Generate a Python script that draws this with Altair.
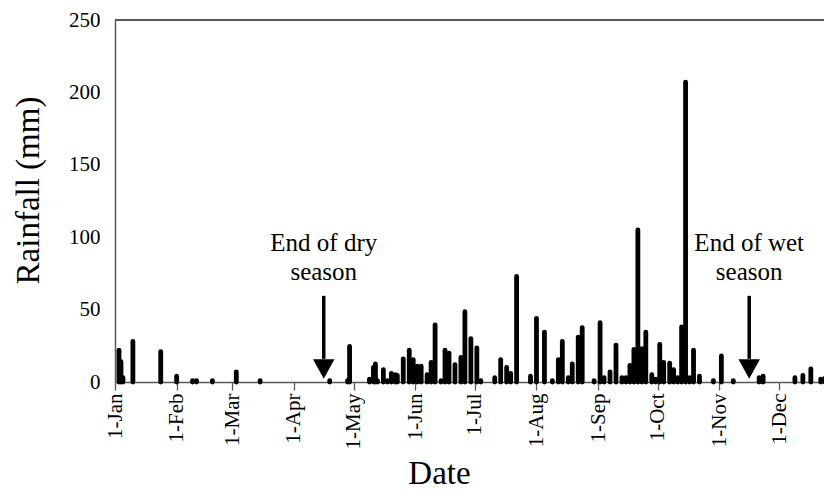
import altair as alt
import pandas as pd

# Daily rainfall (mm)
dates = [
    "2013-01-03", "2013-01-04", "2013-01-05", "2013-01-10", "2013-01-24",
    "2013-02-01", "2013-02-09", "2013-02-11", "2013-02-19", "2013-03-03",
    "2013-03-15", "2013-04-19", "2013-04-28", "2013-04-29",
    "2013-05-09", "2013-05-11", "2013-05-12", "2013-05-13", "2013-05-16",
    "2013-05-18", "2013-05-20", "2013-05-22", "2013-05-23", "2013-05-26",
    "2013-05-29", "2013-05-31", "2013-06-02", "2013-06-04", "2013-06-07",
    "2013-06-09", "2013-06-11", "2013-06-14", "2013-06-16", "2013-06-18",
    "2013-06-21", "2013-06-24", "2013-06-26", "2013-06-29", "2013-07-02",
    "2013-07-04", "2013-07-11", "2013-07-14", "2013-07-17", "2013-07-19",
    "2013-07-22", "2013-07-29", "2013-08-01", "2013-08-05", "2013-08-09",
    "2013-08-12", "2013-08-14", "2013-08-17", "2013-08-19", "2013-08-22",
    "2013-08-24", "2013-08-30", "2013-09-02", "2013-09-04", "2013-09-07",
    "2013-09-10", "2013-09-13", "2013-09-15", "2013-09-17", "2013-09-19",
    "2013-09-21", "2013-09-23", "2013-09-25", "2013-09-28", "2013-09-30",
    "2013-10-02", "2013-10-04", "2013-10-07", "2013-10-09", "2013-10-11",
    "2013-10-13", "2013-10-15", "2013-10-17", "2013-10-19", "2013-10-22",
    "2013-10-29", "2013-11-02", "2013-11-08", "2013-11-21", "2013-11-23",
    "2013-12-09", "2013-12-13", "2013-12-17", "2013-12-22", "2013-12-24",
]
rainfall = [
    22, 14, 3, 28, 21,
    4, 1, 1, 1, 7,
    1, 1, 1, 24.5,
    2, 10, 12.5, 1, 8.5,
    1, 6, 5, 4.5, 16,
    22, 15.5, 11, 11, 5,
    13.5, 39.5, 1, 22, 20,
    12, 17, 48.5, 30, 23.5,
    1, 3, 15.5, 10, 6,
    73, 4, 44, 34.5, 1,
    15.5, 28, 3, 12.5, 31,
    37.5, 1, 41, 3, 7,
    25.5, 3, 3, 11.5, 22.5,
    105, 23, 34.5, 5, 2,
    26, 13.5, 13, 8.5, 3,
    38, 207, 3, 22, 4,
    1, 18, 1, 3, 4,
    3, 4.5, 9, 2, 2.5,
]

# Annotations (season ends)
event_dates = ["2013-04-16", "2013-11-16"]
event_line1 = ["End of dry", "End of wet"]
event_line2 = ["season", "season"]
arrow_top = 59.5
arrow_head_base = 16
arrow_tip = 2.3
text_row1 = 90.5
text_row2 = 70.5

month_ticks = [alt.DateTime(year=2013, month=m, date=1, utc=True) for m in range(1, 13)]
y_ticks = [0, 50, 100, 150, 200, 250]

rain_df = pd.DataFrame({"date": [d + "T00:00:00Z" for d in dates], "rain": rainfall})
ev_df = pd.DataFrame({
    "date": [d + "T00:00:00Z" for d in event_dates],
    "l1": event_line1,
    "l2": event_line2,
    "top": [arrow_top] * 2,
    "base": [arrow_head_base] * 2,
    "tip": [arrow_tip] * 2,
    "t1": [text_row1] * 2,
    "t2": [text_row2] * 2,
})

FONT = "'Liberation Serif', 'Times New Roman', Times, 'DejaVu Serif', serif"
xscale = alt.Scale(
    type="utc",
    domain=[alt.DateTime(year=2013, month=1, date=1, utc=True),
            alt.DateTime(year=2013, month=12, date=23, hours=15, utc=True)],
)
yscale = alt.Scale(domain=[0, 250], nice=False)

x_axis = alt.Axis(
    values=month_ticks, format="%-d-%b", labelAngle=-90, labelFont=FONT,
    labelFontSize=21, labelColor="black", labelPadding=3,
    tickSize=8, tickColor="#595959", tickWidth=1.3,
    domainColor="#595959", domainWidth=1.5, grid=False,
    title="Date", titleFont=FONT, titleFontSize=33, titleFontWeight="normal",
    titleColor="black", titleX=324, titleY=101, titleBaseline="alphabetic",
)
y_axis = alt.Axis(
    values=y_ticks, labelFont=FONT, labelFontSize=21, labelColor="black",
    labelPadding=15, ticks=False, tickSize=0,
    domainColor="#595959", domainWidth=1.5, grid=False,
    title="Rainfall (mm)", titleFont=FONT, titleFontSize=33,
    titleFontWeight="normal", titleColor="black",
    titleX=-77, titleY=170, titleBaseline="alphabetic",
)

bars = alt.Chart(rain_df).mark_rule(
    strokeWidth=4.8, strokeCap="round", color="black"
).encode(
    x=alt.X("date:T", scale=xscale, axis=x_axis),
    y=alt.Y("rain:Q", scale=yscale, axis=y_axis),
    y2=alt.datum(0),
)

top_border = alt.Chart(rain_df).mark_rule(color="#595959", strokeWidth=1.5).encode(
    y=alt.datum(250),
)

shaft = alt.Chart(ev_df).mark_rule(strokeWidth=3.5, color="black").encode(
    x="date:T", y="top:Q", y2="base:Q",
)
head = alt.Chart(ev_df).mark_point(
    shape="M-1,-1.8L1,-1.8L0,0Z", size=460, filled=True, color="black", opacity=1,
).encode(x="date:T", y="tip:Q")

txt1 = alt.Chart(ev_df).mark_text(
    font=FONT, fontSize=25, color="black", baseline="alphabetic", align="center"
).encode(x="date:T", y="t1:Q", text="l1:N")
txt2 = alt.Chart(ev_df).mark_text(
    font=FONT, fontSize=25, color="black", baseline="alphabetic", align="center"
).encode(x="date:T", y="t2:Q", text="l2:N")

chart = alt.layer(bars, top_border, shaft, head, txt1, txt2).properties(
    width=709, height=362,
    autosize=alt.AutoSizeParams(type="none"),
    padding={"left": 107, "top": 12, "right": 0, "bottom": 108},
).configure_view(stroke=None)

chart.save("out.html", embed_options={"renderer": "svg", "actions": False})
